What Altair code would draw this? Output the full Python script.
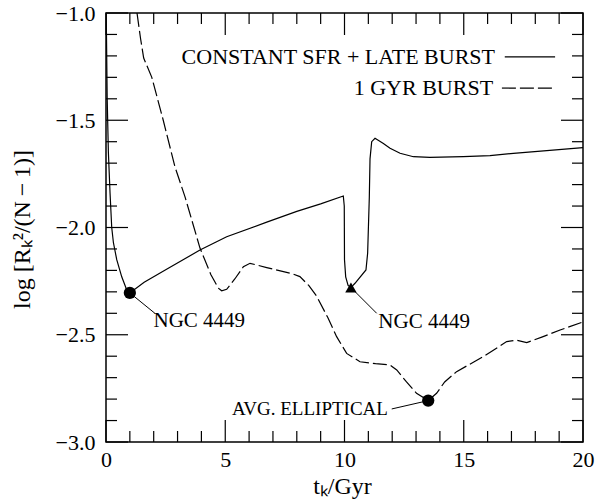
import altair as alt
import pandas as pd

# Constant SFR + late burst model
solid_t = [0.0, 0.02, 0.05, 0.10, 0.17, 0.24, 0.31, 0.45, 0.66, 0.85, 1.0,
           1.6, 2.54, 3.94, 5.06, 6.74, 8.0, 9.0, 9.95,
           9.99, 10.0, 10.05, 10.15, 10.27, 10.44, 10.9, 10.97, 11.04, 11.07,
           11.14, 11.28, 11.63, 11.91, 12.33, 12.89, 13.58, 14.98, 16.1,
           17.08, 18.48, 20.0]
solid_v = [-1.0, -1.1, -1.4, -1.65, -1.84, -2.0, -2.07, -2.15, -2.23, -2.285, -2.305,
           -2.255, -2.195, -2.105, -2.043, -1.975, -1.925, -1.89, -1.853,
           -1.9, -2.15, -2.23, -2.27, -2.28, -2.26, -2.198, -2.12, -1.86, -1.68,
           -1.60, -1.584, -1.608, -1.631, -1.654, -1.670, -1.673, -1.670, -1.665,
           -1.654, -1.642, -1.628]

# 1 Gyr burst model
burst_t = [1.30, 1.45, 1.58, 1.92, 2.4, 2.89, 3.31, 3.94, 4.4, 4.71, 4.85, 5.06,
           5.4, 5.76, 6.04, 6.74, 7.85, 8.13, 8.5, 8.83, 9.3, 9.67, 10.09, 10.65,
           11.3, 11.91, 12.19, 12.6, 13.02, 13.51, 13.86, 14.2, 14.70, 15.82,
           16.80, 17.2, 17.64, 18.3, 19.04, 20.0]
burst_v = [-1.0, -1.12, -1.21, -1.30, -1.50, -1.717, -1.856, -2.096, -2.22, -2.283,
           -2.295, -2.288, -2.24, -2.183, -2.167, -2.187, -2.217, -2.229, -2.27,
           -2.32, -2.42, -2.509, -2.587, -2.626, -2.635, -2.641, -2.664, -2.72,
           -2.773, -2.807, -2.773, -2.72, -2.672, -2.602, -2.532, -2.525, -2.537,
           -2.51, -2.478, -2.44]

# Highlighted objects
obj_names = ["NGC 4449", "NGC 4449", "AVG. ELLIPTICAL"]
obj_shapes = ["circle", "triangle-up", "circle"]
obj_t = [1.0, 10.27, 13.51]
obj_v = [-2.305, -2.28, -2.807]
label_t = [2.05, 11.35, 11.98]
label_v = [-2.40, -2.40, -2.846]
text_t = [1.99, 11.42, 11.82]
text_v = [-2.436, -2.439, -2.846]
text_align = ["left", "left", "right"]
text_size = [21, 21, 19]

legend_labels = ["CONSTANT SFR + LATE BURST", "1 GYR BURST"]
legend_text_t = [16.31, 16.23]
legend_v = [-1.205, -1.35]
legend_line_t = [16.72, 16.6]
legend_line_t2 = [18.83, 18.83]

x_ticks = [0, 5, 10, 15, 20]
y_ticks = [-3.0, -2.5, -2.0, -1.5, -1.0]
x_minor = [v for v in range(0, 21) if v % 5 != 0]
y_minor = [round(-3.0 + 0.1 * i, 1) for i in range(21) if i % 5 != 0]

FONT = "Liberation Serif"
W, H = 477, 429
X0, X1, Y0, Y1 = 0.0, 20.0, -3.0, -1.0

xscale = alt.Scale(domain=[X0, X1], nice=False, zero=False)
yscale = alt.Scale(domain=[Y0, Y1], nice=False, zero=False)

x_axis = alt.Axis(values=x_ticks, format="d", ticks=False, domain=False, grid=False,
                  labelFont=FONT, labelFontSize=22, labelColor="black", labelPadding=7,
                  labelFlush=False,
                  title="tₖ/Gyr", titleFont=FONT, titleFontSize=24, titleFontWeight="normal",
                  titleColor="black", titleX=236, titleY=44, titleBaseline="middle",
                  titleAlign="center")
y_axis = alt.Axis(values=y_ticks, format=".1f", ticks=False, domain=False, grid=False,
                  labelFont=FONT, labelFontSize=22, labelColor="black", labelPadding=11,
                  labelFlush=False,
                  title="log  [Rₖ²/(N\u2009−\u20091)]", titleFont=FONT, titleFontSize=24,
                  titleFontWeight="normal", titleColor="black", titleAngle=-90,
                  titleX=-84, titleY=216, titleBaseline="middle", titleAlign="center")


def X(f):
    return alt.X(f, type="quantitative", scale=xscale, axis=x_axis)


def Y(f):
    return alt.Y(f, type="quantitative", scale=yscale, axis=y_axis)


solid_df = pd.DataFrame({"t": solid_t, "v": solid_v, "i": range(len(solid_t))})
burst_df = pd.DataFrame({"t": burst_t, "v": burst_v, "i": range(len(burst_t))})
obj_df = pd.DataFrame({"name": obj_names, "shape": obj_shapes, "t": obj_t, "v": obj_v,
                       "lt": label_t, "lv": label_v, "tt": text_t, "tv": text_v,
                       "align": text_align, "size": text_size})
leg_df = pd.DataFrame({"label": legend_labels, "tt": legend_text_t, "v": legend_v,
                       "lt": legend_line_t, "lt2": legend_line_t2,
                       "dash": ["solid", "dash"]})

# inward frame ticks on all four sides (lengths in pixels, converted to data units)
PX_X = (X1 - X0) / W
PX_Y = (Y1 - Y0) / H
MAJOR, MINOR = 22, 11
segs = []
for vals, length in ((x_ticks, MAJOR), (x_minor, MINOR)):
    d = length * PX_Y
    for t in vals:
        segs.append((t, Y0, t, Y0 + d))
        segs.append((t, Y1, t, Y1 - d))
for vals, length in ((y_ticks, MAJOR), (y_minor, MINOR)):
    d = length * PX_X
    for v in vals:
        segs.append((X0, v, X0 + d, v))
        segs.append((X1, v, X1 - d, v))
tick_df = pd.DataFrame(segs, columns=["ta", "va", "tb", "vb"])

# the tick layer shares the scales but leaves the axes to the other layers
ticks = alt.Chart(tick_df).mark_rule(color="black", strokeWidth=1.2).encode(
    x=alt.X("ta:Q", scale=xscale), y=alt.Y("va:Q", scale=yscale),
    x2="tb:Q", y2="vb:Q")

solid = alt.Chart(solid_df).mark_line(color="black", strokeWidth=1.2, clip=True).encode(
    x=X("t"), y=Y("v"), order="i:Q")
burst = alt.Chart(burst_df).mark_line(color="black", strokeWidth=1.2, clip=True,
                                      strokeDash=[14, 4]).encode(
    x=X("t"), y=Y("v"), order="i:Q")

leaders = alt.Chart(obj_df).mark_rule(color="black", strokeWidth=1.0).encode(
    x=X("t"), y=Y("v"), x2="lt:Q", y2="lv:Q")

dots = alt.Chart(obj_df).transform_filter("datum.shape == 'circle'").mark_point(
    shape="circle", filled=True, color="black", size=150, opacity=1).encode(
    x=X("t"), y=Y("v"))
tri = alt.Chart(obj_df).transform_filter("datum.shape == 'triangle-up'").mark_point(
    shape="triangle-up", filled=True, color="black", size=130, opacity=1).encode(
    x=X("t"), y=Y("v"))

labels_left = alt.Chart(obj_df).transform_filter("datum.align == 'left'").mark_text(
    font=FONT, align="left", baseline="middle", color="black").encode(
    x=X("tt"), y=Y("tv"), text="name:N", size=alt.Size("size:Q", scale=None, legend=None))
labels_right = alt.Chart(obj_df).transform_filter("datum.align == 'right'").mark_text(
    font=FONT, align="right", baseline="middle", color="black").encode(
    x=X("tt"), y=Y("tv"), text="name:N", size=alt.Size("size:Q", scale=None, legend=None))

leg_text = alt.Chart(leg_df).mark_text(
    font=FONT, fontSize=22, align="right", baseline="middle", color="black").encode(
    x=X("tt"), y=Y("v"), text="label:N")
leg_solid = alt.Chart(leg_df).transform_filter("datum.dash == 'solid'").mark_rule(
    color="black", strokeWidth=1.2).encode(x=X("lt"), x2="lt2:Q", y=Y("v"))
leg_dash = alt.Chart(leg_df).transform_filter("datum.dash == 'dash'").mark_rule(
    color="black", strokeWidth=1.2, strokeDash=[14, 4]).encode(x=X("lt"), x2="lt2:Q", y=Y("v"))

chart = alt.layer(
    solid, burst, leaders, dots, tri, labels_left, labels_right,
    leg_text, leg_solid, leg_dash, ticks
).properties(
    width=W, height=H,
    autosize=alt.AutoSizeParams(type="none"),
    padding={"left": 106, "top": 13, "right": 14, "bottom": 57},
    background="white",
).configure_view(
    stroke="black", strokeWidth=1.5
)

chart.save("out.html", embed_options={"renderer": "svg", "actions": False})
